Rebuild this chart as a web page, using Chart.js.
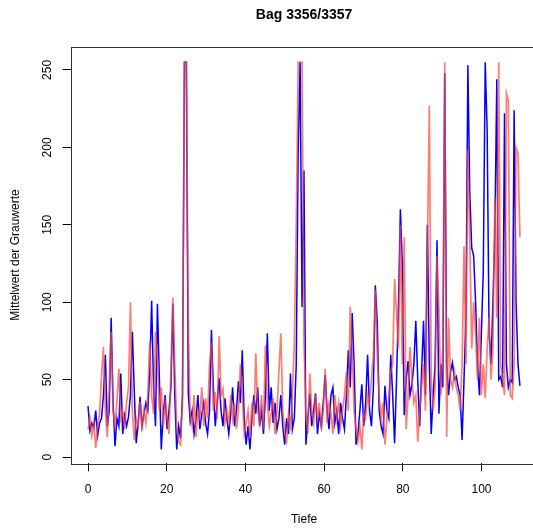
<!DOCTYPE html>
<html>
<head>
<meta charset="utf-8">
<script src="https://cdn.jsdelivr.net/npm/chart.js@4"></script>
<style>
  html, body { margin: 0; padding: 0; background: #fff; overflow: hidden; }
  #wrap { width: 533px; height: 528px; overflow: hidden; }
</style>
</head>
<body>
<div id="wrap"><canvas id="chart" width="540" height="528"></canvas></div>
<script>
// Mittelwert der Grauwerte, Bag 3356 (blau) und 3357 (rot), je 0.49 Tiefe
const blau = [
  33, 17, 22, 19, 30, 14, 22, 25, 40, 66,
  20, 30, 90, 35, 7, 25, 20, 54, 15, 27,
  20, 26, 40, 81, 42, 9, 22, 39, 20, 28,
  35, 30, 55, 101, 45, 20, 99, 51, 5, 28,
  40, 18, 30, 45, 99, 40, 5, 20, 12, 40,
  255, 255, 41, 23, 30, 15, 25, 40, 18, 28,
  35, 22, 15, 30, 82, 45, 20, 35, 51, 30,
  20, 38, 25, 15, 28, 45, 20, 30, 49, 35,
  69, 25, 8, 20, 5, 25, 40, 28, 45, 20,
  30, 15, 40, 80, 30, 45, 22, 35, 18, 25,
  40, 20, 8, 25, 15, 54, 18, 25, 60, 197,
  255, 97, 185, 8, 25, 41, 20, 30, 41, 15,
  28, 20, 35, 53, 30, 18, 40, 45, 22, 30,
  15, 35, 25, 18, 40, 69, 45, 93, 60, 8,
  15, 30, 47, 20, 35, 66, 30, 20, 45, 111,
  87, 30, 20, 15, 46, 30, 25, 66, 40, 9,
  50, 98, 160, 125, 27, 50, 62, 40, 47, 60,
  88, 50, 20, 55, 88, 40, 150, 60, 15, 40,
  60, 140, 28, 60, 45, 248, 60, 40, 55, 61,
  50, 52, 45, 40, 11, 50, 90, 253, 170, 135,
  130, 100, 60, 40, 80, 120, 255, 211, 80, 60,
  100, 145, 244, 50, 52, 45, 222, 60, 45, 50,
  48, 224, 100, 60, 46
];

const rot = [
  18, 25, 14, 22, 6, 20, 28, 52, 71, 30,
  13, 45, 81, 30, 20, 36, 57, 25, 30, 18,
  35, 45, 100, 30, 11, 25, 20, 36, 17, 30,
  22, 40, 75, 40, 28, 81, 64, 30, 45, 20,
  35, 25, 15, 55, 103, 60, 20, 10, 8, 35,
  255, 255, 87, 28, 20, 40, 13, 30, 25, 45,
  20, 38, 25, 60, 74, 30, 42, 25, 78, 40,
  44, 22, 30, 20, 40, 25, 35, 18, 30, 60,
  40, 15, 22, 30, 12, 35, 20, 67, 30, 22,
  40, 18, 72, 35, 20, 28, 38, 15, 30, 55,
  80, 30, 15, 10, 28, 20, 40, 74, 150, 255,
  255, 255, 74, 28, 15, 54, 30, 22, 40, 25,
  35, 18, 30, 57, 22, 35, 28, 15, 40, 25,
  35, 20, 30, 40, 55, 30, 97, 70, 30, 18,
  10, 20, 5, 28, 25, 40, 35, 50, 66, 108,
  66, 40, 25, 35, 8, 25, 40, 55, 60, 115,
  93, 70, 150, 60, 142, 18, 40, 71, 50, 35,
  40, 10, 30, 45, 60, 30, 132, 227, 50, 30,
  45, 130, 95, 40, 70, 255, 13, 90, 50, 45,
  55, 45, 40, 30, 60, 136, 60, 198, 140, 70,
  100, 80, 50, 90, 40, 60, 38, 70, 90, 50,
  70, 168, 90, 255, 60, 50, 40, 235, 230, 40,
  38, 60, 200, 196, 142
];

// Tiefe der Messpunkte
const tiefe = blau.map((_, i) => +(i * 0.49).toFixed(2));

const xTicks = [0, 20, 40, 60, 80, 100];
const yTicks = [0, 50, 100, 150, 200, 250];

const FONT = 'Liberation Sans, Arial, sans-serif';
Chart.defaults.font.family = FONT;
Chart.defaults.color = '#000';

// Rahmen und gedrehte y-Beschriftung wie in R
const rahmen = {
    id: 'rahmen',
    afterDraw(chart) {
        const { ctx, chartArea: a, scales: { y } } = chart;
        ctx.save();
        ctx.strokeStyle = '#333';
        ctx.lineWidth = 1;
        ctx.strokeRect(Math.round(a.left) + 0.5, Math.round(a.top) + 0.5,
            Math.round(a.right - a.left), Math.round(a.bottom - a.top));
        ctx.fillStyle = '#000';
        ctx.font = '12px ' + FONT;
        ctx.textAlign = 'center';
        ctx.textBaseline = 'middle';
        yTicks.forEach(v => {
            ctx.save();
            ctx.translate(48, y.getPixelForValue(v));
            ctx.rotate(-Math.PI / 2);
            ctx.fillText(String(v), 0, 0);
            ctx.restore();
        });
        ctx.restore();
    }
};

new Chart(document.getElementById('chart'), {
    type: 'line',
    data: {
        datasets: [
            {
                label: 'Bag 3357',
                data: tiefe.map((t, i) => ({ x: t, y: rot[i] })),
                borderColor: 'rgba(255, 75, 55, 0.72)',
                borderWidth: 1.7,
                pointRadius: 0,
                tension: 0,
                order: 0
            },
            {
                label: 'Bag 3356',
                data: tiefe.map((t, i) => ({ x: t, y: blau[i] })),
                borderColor: '#0000ff',
                borderWidth: 1.5,
                pointRadius: 0,
                tension: 0,
                order: 1
            }
        ]
    },
    options: {
        responsive: false,
        animation: false,
        layout: { padding: { left: 0, right: 2.6, top: 0, bottom: 0 } },
        plugins: {
            legend: { display: false },
            tooltip: { enabled: false },
            title: {
                display: true,
                fullSize: false,
                text: 'Bag 3356/3357',
                font: { size: 14, weight: 'bold' },
                color: '#000',
                padding: { top: 6.6, bottom: 23.3 }
            }
        },
        scales: {
            x: {
                type: 'linear',
                min: -4.4,
                max: 114.2,
                afterBuildTicks: s => { s.ticks = xTicks.map(v => ({ value: v })); },
                afterFit: s => { s.height = 64.7; },
                ticks: { font: { size: 12 }, color: '#000', padding: 11, maxRotation: 0 },
                grid: { drawOnChartArea: false, drawTicks: true, tickLength: 8, color: '#000' },
                border: { display: false },
                title: { display: true, text: 'Tiefe', font: { size: 12 }, color: '#000', padding: { top: 0, bottom: 1 } }
            },
            y: {
                type: 'linear',
                min: -4,
                max: 265,
                afterBuildTicks: s => { s.ticks = yTicks.map(v => ({ value: v })); },
                afterFit: s => { s.width = 70.7; },
                ticks: { display: false },
                grid: { drawOnChartArea: false, drawTicks: true, tickLength: 8, color: '#000' },
                border: { display: false },
                title: { display: true, text: 'Mittelwert der Grauwerte', font: { size: 12 }, color: '#000', padding: { top: 8.8, bottom: 0 } }
            }
        }
    },
    plugins: [rahmen]
});
</script>
</body>
</html>
